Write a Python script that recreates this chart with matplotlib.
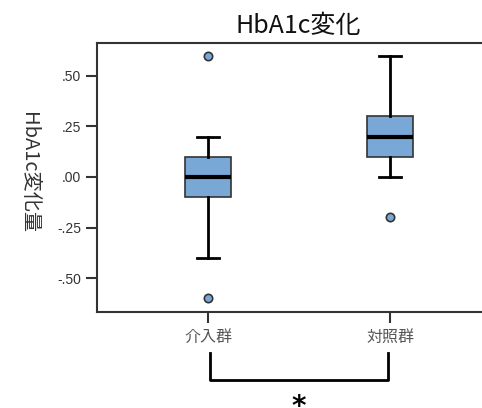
import matplotlib
matplotlib.use("Agg")
from matplotlib import pyplot as plt
from matplotlib import transforms

plt.rcParams['font.family'] = ['Noto Sans CJK JP', 'DejaVu Sans']

# 各群の箱ひげ図の統計量
groups = ["介入群", "対照群"]
medians = [0.0, 0.2]
q1 = [-0.1, 0.1]
q3 = [0.1, 0.3]
whisker_low = [-0.4, 0.0]
whisker_high = [0.2, 0.6]
outliers = [[0.6, -0.6], [-0.2]]

y_ticks = [0.5, 0.25, 0.0, -0.25, -0.5]
y_tick_labels = [".50", ".25", ".00", "-.25", "-.50"]

fig = plt.figure(figsize=(4.82, 4.08), dpi=100)
ax = fig.add_axes([97 / 482, 1 - 312 / 408, (492 - 97) / 482, 269 / 408])

stats = []
for i in range(len(groups)):
    stats.append({
        "med": medians[i], "q1": q1[i], "q3": q3[i],
        "whislo": whisker_low[i], "whishi": whisker_high[i],
        "fliers": outliers[i], "label": groups[i],
    })

ax.bxp(stats, positions=[1, 2], widths=0.25, patch_artist=True,
       boxprops=dict(facecolor="#79a7d6", edgecolor="#333333", linewidth=1.2),
       medianprops=dict(color="black", linewidth=3),
       whiskerprops=dict(color="black", linewidth=2),
       capprops=dict(color="black", linewidth=2),
       capwidths=0.12,
       flierprops=dict(marker="o", markerfacecolor="#79a7d6",
                       markeredgecolor="#333333", markersize=6,
                       markeredgewidth=1.2))

ax.set_xlim(0.39, 2.56)
ax.set_ylim(-0.668, 0.663)
ax.set_yticks(y_ticks)
ax.set_yticklabels(y_tick_labels, fontsize=10, color="#333333",
                   family="Liberation Sans")
ax.set_xticks([1, 2])
ax.set_xticklabels(groups, fontsize=11.5, color="#555555")
ax.tick_params(axis="both", direction="out", length=8, width=1.5,
               color="#333333")
ax.tick_params(axis="x", pad=4)
for s in ax.spines.values():
    s.set_color("#333333")
    s.set_linewidth(1.5)

fig.text(298 / 482, 1 - 26 / 408, "HbA1c変化", fontsize=18, ha="center",
         va="center", color="#111111")
fig.text(28 / 482, 1 - 172 / 408, "HbA1c変化量", fontsize=14.5,
         rotation=-90, ha="center", va="center", color="#333333")

# 有意差のブラケット
trans = transforms.blended_transform_factory(ax.transData, ax.transAxes)
ax.plot([1.01, 1.01, 1.99, 1.99], [-0.152, -0.253, -0.253, -0.152],
        color="black", linewidth=2, transform=trans, clip_on=False)
ax.text(1.5, -0.301, "*", fontsize=20, fontweight="bold", ha="center",
        va="top", transform=trans, family="DejaVu Sans")

plt.savefig("out.png", dpi=100)
